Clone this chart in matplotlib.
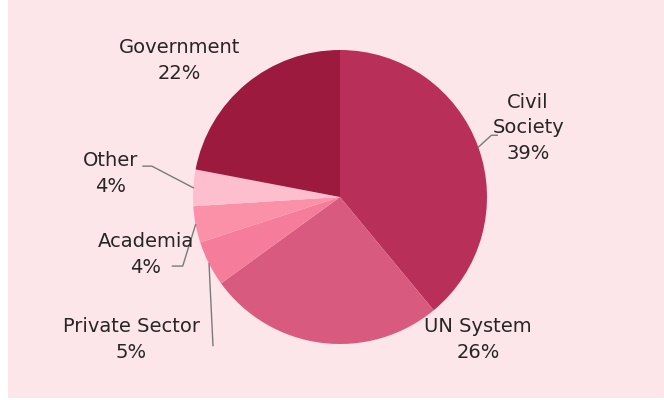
import numpy as np
import matplotlib.pyplot as plt
from matplotlib.patches import Rectangle

# data
sectors = ['Civil\nSociety', 'UN System', 'Private Sector', 'Academia', 'Other', 'Government']
shares = [39, 26, 5, 4, 4, 22]
colors = ['#b82f59', '#d85a7e', '#f57c9a', '#fb91a9', '#fdbfcd', '#9c1a3d']

# label placement (data units, pie radius = 1)
label_pos = [(1.28, 0.47), (0.94, -0.97), (-1.42, -0.97), (-1.32, -0.39), (-1.56, 0.16), (-1.09, 0.93)]
# leader elbows, None = no line
elbows = [[(1.03, 0.42), (1.07, 0.42)],
          None,
          [(-0.864, -1.01)],
          [(-1.07, -0.47), (-1.14, -0.47)],
          [(-1.28, 0.21), (-1.34, 0.21)],
          None]

plt.rcParams['font.family'] = ['DejaVu Sans']

fig = plt.figure(figsize=(6.64, 4), dpi=100, facecolor='white')
fig.patches.append(Rectangle((8 / 664, 2 / 400), 656 / 664, 398 / 400,
                             transform=fig.transFigure, facecolor='#fde6ea',
                             edgecolor='none', zorder=-1))

cx, cy, r = 340, 197, 147
ax = fig.add_axes([(cx - r) / 664, (400 - cy - r) / 400, 2 * r / 664, 2 * r / 400])
ax.set_facecolor('none')

wedges, _ = ax.pie(shares, colors=colors, startangle=90, counterclock=False,
                   radius=1, wedgeprops=dict(linewidth=0))
ax.set_xlim(-1, 1)
ax.set_ylim(-1, 1)
ax.set_aspect('equal')
ax.axis('off')

for w, name, val, pos, elb in zip(wedges, sectors, shares, label_pos, elbows):
    mid = np.deg2rad((w.theta1 + w.theta2) / 2)
    ex, ey = np.cos(mid), np.sin(mid)
    if elb is not None:
        pts = [(ex, ey)] + elb
        xs, ys = zip(*pts)
        ax.plot(xs, ys, color='#7a7a7a', lw=1, clip_on=False)
    ax.text(pos[0], pos[1], f'{name}\n{val}%', ha='center', va='center',
            fontsize=14, color='#262626', linespacing=1.45, clip_on=False)

fig.savefig('out.png', dpi=100, facecolor=fig.get_facecolor())
